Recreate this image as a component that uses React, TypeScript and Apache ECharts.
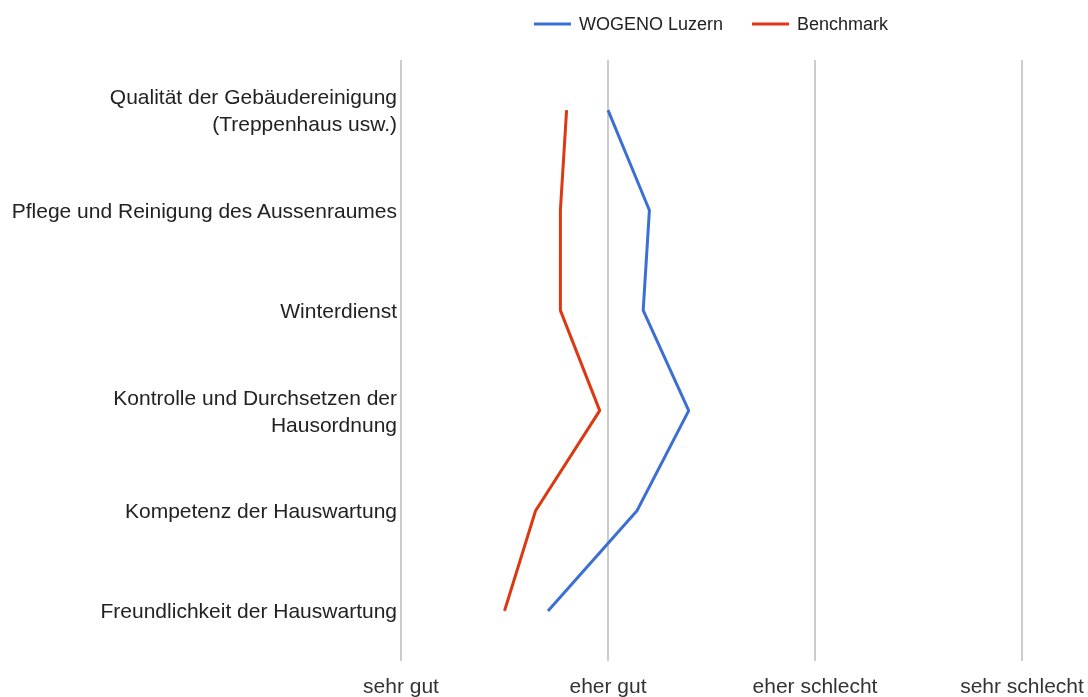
import React, { useEffect, useRef } from "react";
import * as echarts from "echarts";

const categories = [
  "Qualität der Gebäudereinigung\n(Treppenhaus usw.)",
  "Pflege und Reinigung des Aussenraumes",
  "Winterdienst",
  "Kontrolle und Durchsetzen der\nHausordnung",
  "Kompetenz der Hauswartung",
  "Freundlichkeit der Hauswartung",
];
const wogeno = [2.0, 2.2, 2.17, 2.39, 2.14, 1.71];
const benchmark = [1.8, 1.77, 1.77, 1.96, 1.65, 1.5];
const tickLabels: Record<number, string> = {
  1: "sehr gut",
  2: "eher gut",
  3: "eher schlecht",
  4: "sehr schlecht",
};

export default function App() {
  const ref = useRef<HTMLDivElement>(null);
  useEffect(() => {
    const chart = echarts.init(ref.current!, null, { renderer: "svg" });
    chart.setOption({
      animation: false,
      textStyle: { fontFamily: "Liberation Sans, Arial, sans-serif" },
      legend: {
        top: 10,
        left: 529,
        itemWidth: 37,
        itemHeight: 3,
        itemGap: 29,
        icon: "rect",
        textStyle: { fontSize: 18, color: "#222", padding: [0, 0, 0, 3] },
        data: ["WOGENO Luzern", "Benchmark"],
      },
      grid: { left: 401, right: 66, top: 60, bottom: 36, containLabel: false },
      xAxis: {
        type: "value",
        min: 1,
        max: 4,
        interval: 1,
        axisLine: { show: false },
        axisTick: { show: false },
        splitLine: { show: true, lineStyle: { color: "#cccccc", width: 2 } },
        axisLabel: {
          formatter: (v: number) => tickLabels[v] ?? "",
          fontSize: 21,
          color: "#333",
          margin: 14,
        },
      },
      yAxis: {
        type: "category",
        inverse: true,
        data: categories,
        axisLine: { show: false },
        axisTick: { show: false },
        axisLabel: {
          fontSize: 21,
          color: "#222",
          margin: 4,
          lineHeight: 27,
          align: "right",
        },
      },
      series: [
        {
          name: "WOGENO Luzern",
          type: "line",
          data: wogeno,
          symbol: "none",
          color: "#3b6fd4",
          lineStyle: { width: 3, color: "#3b6fd4" },
        },
        {
          name: "Benchmark",
          type: "line",
          data: benchmark,
          symbol: "none",
          color: "#dc3912",
          lineStyle: { width: 3, color: "#dc3912" },
        },
      ],
    });
    return () => chart.dispose();
  }, []);
  return (
    <div
      ref={ref}
      style={{ position: "fixed", left: 0, top: 0, width: 1088, height: 697 }}
    />
  );
}
